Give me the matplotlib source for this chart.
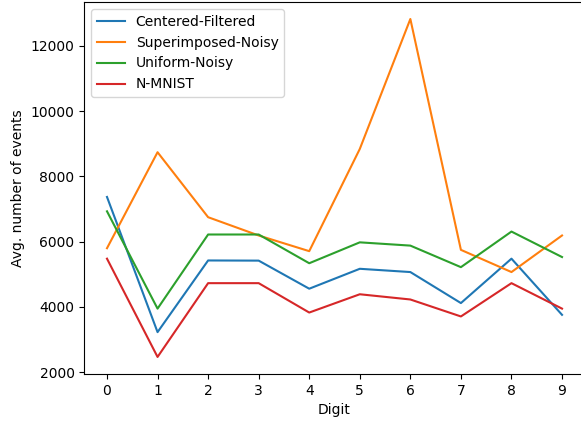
import numpy as np
import matplotlib.pyplot as plt

digits = list(range(10))
centered_filtered = [7370, 3230, 5425, 5420, 4560, 5170, 5070, 4120, 5480, 3760]
superimposed_noisy = [5800, 8740, 6750, 6190, 5710, 8840, 12820, 5750, 5070, 6190]
uniform_noisy = [6930, 3950, 6220, 6220, 5340, 5980, 5880, 5220, 6310, 5530]
n_mnist = [5480, 2470, 4730, 4730, 3830, 4390, 4230, 3710, 4730, 3950]

fig = plt.figure(figsize=(5.81, 4.21), dpi=100)
ax = fig.add_axes([0.145, 0.112, 0.8615, 0.883])

ax.plot(digits, centered_filtered, label='Centered-Filtered')
ax.plot(digits, superimposed_noisy, label='Superimposed-Noisy')
ax.plot(digits, uniform_noisy, label='Uniform-Noisy')
ax.plot(digits, n_mnist, label='N-MNIST')

ax.set_xticks(digits)
ax.set_xlabel('Digit')
ax.set_ylabel('Avg. number of events')
ax.legend(loc='upper left')

fig.savefig('out.png', dpi=100)
